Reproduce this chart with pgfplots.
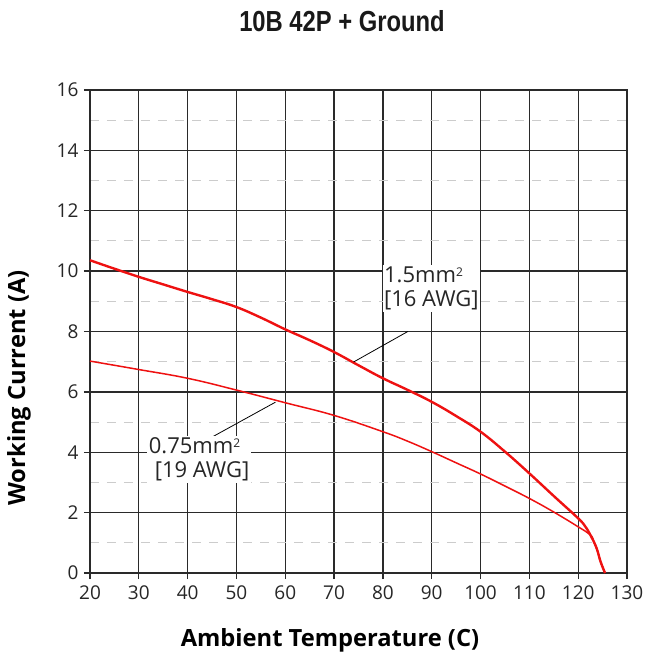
\documentclass[border=0pt]{standalone}
\usepackage{fontspec}
\setmainfont{Open Sans}
\newfontfamily\titlefont[FakeStretch=0.82]{Liberation Sans}
\usepackage{pgfplots}
\pgfplotsset{compat=1.18}

\definecolor{curvered}{HTML}{EE1111}
\definecolor{gridgray}{HTML}{2A2A2A}
\definecolor{minorgray}{HTML}{CCCCCC}

\newcommand{\sq}{{\fontsize{12}{12}\selectfont\raisebox{6pt}{2}}}

\begin{document}
\begin{tikzpicture}
    % fixed page size, 1pt = 1px of the reference
    \path[use as bounding box] (-90pt,-84pt) rectangle (561pt,573pt);
    \begin{axis}[
        scale only axis,
        width=537pt, height=483pt,
        xmin=20, xmax=130,
        ymin=0, ymax=16,
        xtick={20,30,...,130},
        ytick={0,2,...,16},
        minor ytick={1,3,...,15},
        grid=both,
        major grid style={gridgray, line width=1.3pt},
        minor grid style={minorgray, line width=1pt, dash pattern=on 9pt off 8pt},
        axis line style={gridgray, line width=1.3pt},
        tick align=outside,
        major tick length=6pt,
        minor tick length=0pt,
        tick style={gridgray, line width=1.3pt},
        xtick pos=bottom, ytick pos=left,
        ticklabel style={font=\fontsize{19}{22}\selectfont, text=black!85},
        /pgf/number format/assume math mode=true,
        xticklabel style={yshift=-3pt},
        yticklabel style={xshift=-2pt},
        clip=false,
    ]
    % 1.5mm2 [16 AWG]
    \addplot[curvered, line width=2.4pt, smooth, tension=0.7] coordinates {
        (20,10.36) (25,10.08) (30,9.81) (35,9.56) (40,9.31) (45,9.07)
        (50,8.81) (55,8.46) (60,8.07) (65,7.71) (70,7.32) (75,6.88)
        (80,6.45) (85,6.07) (90,5.67) (95,5.20) (100,4.68) (105,4.02)
        (110,3.30) (115,2.55) (120,1.81) (121.5,1.53) (122.5,1.26)
        (123.2,1.04) (123.9,0.76) (124.6,0.37) (125.5,0)
    };
    % 0.75mm2 [19 AWG]
    \addplot[curvered, line width=1.5pt, smooth, tension=0.7] coordinates {
        (20,7.02) (30,6.74) (40,6.45) (50,6.06) (60,5.64) (70,5.22)
        (80,4.68) (85,4.37) (90,4.02) (95,3.65) (100,3.28) (105,2.88)
        (110,2.47) (115,2.02) (120,1.53) (122.5,1.26)
        (123.2,1.04) (123.9,0.76) (124.6,0.37) (125.5,0)
    };
    % leaders and labels
    \draw[black, line width=0.8pt] (axis cs:74.0,6.99) -- (axis cs:85.1,8.0);
    \node[fill=white, anchor=north west, inner xsep=1pt, inner ysep=2pt,
          align=left, font=\fontsize{22}{24}\selectfont, text=black!85]
        at (axis cs:80.0,10.2) {1.5mm\sq\\{[}16 AWG{]}};
    \draw[black, line width=0.8pt] (axis cs:44.3,4.44) -- (axis cs:58.0,5.66);
    \node[fill=white, anchor=north west, inner xsep=2pt, inner ysep=2pt,
          align=left, font=\fontsize{22}{24}\selectfont, text=black!85]
        at (axis cs:31.6,4.55) {0.75mm\sq\\\hspace*{6pt}{[}19 AWG{]}};
    \end{axis}
    % titles
    \node[font=\titlefont\bfseries\fontsize{29}{32}\selectfont, text=black!90]
        at (252pt,552pt) {10B 42P + Ground};
    \node[font=\bfseries\fontsize{23.7}{26}\selectfont, text=black]
        at (240pt,-67pt) {Ambient Temperature (C)};
    \node[font=\bfseries\fontsize{23.7}{26}\selectfont, text=black, rotate=90]
        at (-71pt,185pt) {Working Current (A)};
\end{tikzpicture}
\end{document}
